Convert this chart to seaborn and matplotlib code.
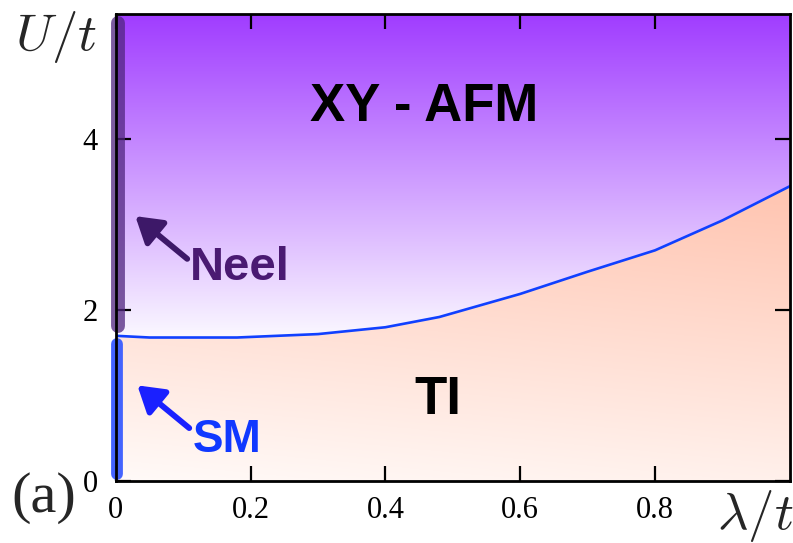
import numpy as np
import matplotlib
matplotlib.use("Agg")
import matplotlib.pyplot as plt
import seaborn as sns
import pandas as pd
from matplotlib.patches import Polygon

# ---- data ----
lam = [0.0, 0.05, 0.18, 0.30, 0.40, 0.48, 0.60, 0.70, 0.80, 0.90, 1.0]
u_c = [1.70, 1.68, 1.68, 1.72, 1.80, 1.92, 2.19, 2.45, 2.70, 3.05, 3.45]
x_ticks = [0, 0.2, 0.4, 0.6, 0.8]
x_ticklabels = ["0", "0.2", "0.4", "0.6", "0.8"]
y_ticks = [0, 2, 4]
y_ticklabels = ["0", "2", "4"]
neel_range = [1.81, 5.36]
sm_range = [0.08, 1.60]
xmax, ymax = 1.0, 5.47

sns.set_theme(style="ticks")
plt.rcParams["font.family"] = ["Liberation Serif", "DejaVu Serif"]
plt.rcParams["mathtext.fontset"] = "cm"

fig = plt.figure(figsize=(7.93, 5.43), dpi=100)
ax = fig.add_axes([0.146, 0.114, 0.850, 0.861])
ax.set_xlim(0, xmax)
ax.set_ylim(0, ymax)

# ---- gradient backgrounds ----
nx, ny = 300, 300
gx = np.linspace(0, xmax, nx)
gy = np.linspace(0, ymax, ny)
X, Y = np.meshgrid(gx, gy)
top_c = np.array([160, 60, 255]) / 255.0
low_c = np.array([250, 247, 255]) / 255.0
t = np.clip((Y - 1.7) / (ymax - 1.7), 0, 1)[..., None]
img_up = low_c * (1 - t) + top_c * t
w_c = np.array([255, 250, 248]) / 255.0
p_c = np.array([255, 196, 176]) / 255.0
s = np.clip(0.82 * Y / 3.45 + 0.18 * X / xmax, 0, 1)[..., None]
img_lo = w_c * (1 - s) + p_c * s

poly_up = Polygon(list(zip(lam, u_c)) + [(xmax, ymax), (0, ymax)], closed=True,
                  transform=ax.transData, facecolor="none", edgecolor="none")
poly_lo = Polygon(list(zip(lam, u_c)) + [(xmax, 0), (0, 0)], closed=True,
                  transform=ax.transData, facecolor="none", edgecolor="none")
ax.add_patch(poly_up)
ax.add_patch(poly_lo)
im1 = ax.imshow(img_up, extent=[0, xmax, 0, ymax], origin="lower", aspect="auto", zorder=0)
im1.set_clip_path(poly_up)
im2 = ax.imshow(img_lo, extent=[0, xmax, 0, ymax], origin="lower", aspect="auto", zorder=0)
im2.set_clip_path(poly_lo)

# ---- phase boundary ----
df = pd.DataFrame({"lam": lam, "U": u_c})
sns.lineplot(data=df, x="lam", y="U", ax=ax, color="#1040ff", lw=1.9, zorder=3, sort=False)

# ---- bars on the U axis ----
ax.plot([0.003, 0.003], neel_range, color="#50257f", alpha=0.75, lw=10,
        solid_capstyle="round", clip_on=False, zorder=4)
ax.plot([0.002, 0.002], sm_range, color="#3a5cff", alpha=0.95, lw=8.5,
        solid_capstyle="round", clip_on=False, zorder=4)

# ---- labels / arrows ----
bold = dict(family=["Liberation Sans", "DejaVu Sans"], fontweight="bold")
ax.text(0.458, (481 - 107) / 85.5, "XY - AFM", fontsize=38, color="black", ha="center",
        va="center", **bold)
ax.text(0.478, (481 - 400) / 85.5, "TI", fontsize=38, color="black", ha="center",
        va="center", **bold)
ax.text(0.110, (481 - 268) / 85.5, "Neel", fontsize=34, color="#4a1a72", ha="left",
        va="center", **bold)
ax.text(0.114, (481 - 440) / 85.5, "SM", fontsize=33, color="#1038ff", ha="left",
        va="center", **bold)
ax.annotate("", xy=(0.029, 3.10), xytext=(0.106, 2.60),
            arrowprops=dict(arrowstyle="-|>,head_length=0.45,head_width=0.28", lw=4.2,
                            color="#3d1868", mutation_scale=34, shrinkA=0, shrinkB=0),
            zorder=5)
ax.annotate("", xy=(0.032, 1.12), xytext=(0.109, 0.62),
            arrowprops=dict(arrowstyle="-|>,head_length=0.45,head_width=0.28", lw=4.2,
                            color="#1a20ff", mutation_scale=34, shrinkA=0, shrinkB=0),
            zorder=5)

# ---- axes styling ----
ax.set_xticks(x_ticks)
ax.set_xticklabels(x_ticklabels)
ax.set_yticks(y_ticks)
ax.set_yticklabels(y_ticklabels)
ax.tick_params(direction="in", length=11, width=1.6, top=True, right=True,
               labelsize=22, colors="black")
ax.tick_params(axis="x", pad=11)
ax.tick_params(axis="y", pad=13)
for lab in ax.get_xticklabels() + ax.get_yticklabels():
    lab.set_family(["Liberation Serif", "DejaVu Serif"])
for sp in ax.spines.values():
    sp.set_visible(True)
    sp.set_linewidth(2)
    sp.set_color("black")
    sp.set_zorder(6)
ax.set_xlabel("")
ax.set_ylabel("")

fig.text(56 / 793, 1 - 37 / 543, r"$U/t$", fontsize=38, ha="center", va="center")
fig.text(755 / 793, 1 - 516 / 543, r"$\lambda/t$", fontsize=38, ha="center", va="center")
fig.text(44 / 793, 1 - 498 / 543, "(a)", fontsize=42, ha="center", va="center",
         family=["Liberation Serif", "DejaVu Serif"])

fig.savefig("out.png", dpi=100)
